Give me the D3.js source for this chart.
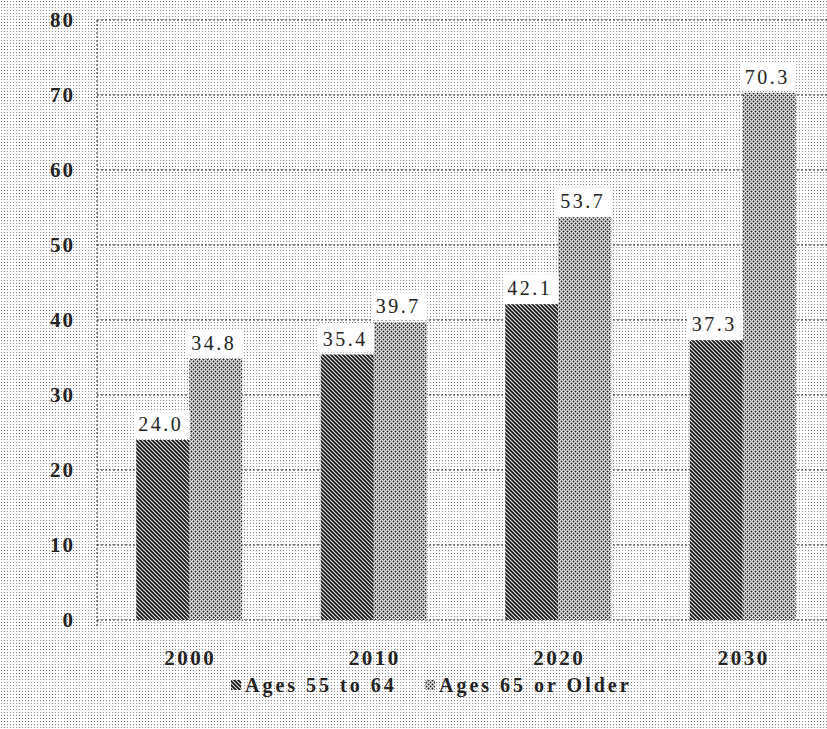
<!DOCTYPE html>
<html><head><meta charset="utf-8">
<script src="https://cdn.jsdelivr.net/npm/d3@7"></script>
<style>html,body{margin:0;padding:0;background:#fff;overflow:hidden}</style>
</head><body>
<svg id="c" width="827" height="729"></svg>
<script>
const categories = ["2000", "2010", "2020", "2030"];
const seriesNames = ["Ages 55 to 64", "Ages 65 or Older"];
const ages55to64 = [24.0, 35.4, 42.1, 37.3];
const ages65plus = [34.8, 39.7, 53.7, 70.3];
const yTicks = [0, 10, 20, 30, 40, 50, 60, 70, 80];

const svg = d3.select("#c");
const W = 827, H = 729;
const defs = svg.append("defs");

const bg = defs.append("pattern").attr("id","bgdots").attr("width",3).attr("height",3).attr("patternUnits","userSpaceOnUse");
bg.append("rect").attr("width",3).attr("height",3).attr("fill","#fff");
bg.append("rect").attr("x",1).attr("y",1).attr("width",1).attr("height",1).attr("fill","#8a8a8a");

const p1 = defs.append("pattern").attr("id","pdark").attr("width",4).attr("height",4).attr("patternUnits","userSpaceOnUse");
p1.append("rect").attr("width",4).attr("height",4).attr("fill","#f0f0f0");
p1.append("path").attr("d","M-1,-1 L5,5 M-1,3 L1,5 M3,-1 L5,1").attr("stroke","#151515").attr("stroke-width",1.8);

const p2 = defs.append("pattern").attr("id","plight").attr("width",4).attr("height",4).attr("patternUnits","userSpaceOnUse");
p2.append("rect").attr("width",4).attr("height",4).attr("fill","#f2f2f2");
p2.append("path").attr("d","M-1,-1 L5,5 M-1,3 L1,5 M3,-1 L5,1").attr("stroke","#222").attr("stroke-width",1.8).attr("stroke-dasharray","1.6,1.2");

svg.append("rect").attr("width",W).attr("height",H).attr("fill","url(#bgdots)");

const x = d3.scaleBand().domain(categories).range([97, 835]);
const y = d3.scaleLinear().domain([0, 80]).range([620, 20]);
const barW = 53;
const serif = "Liberation Serif, 'Times New Roman', serif";

svg.append("g").selectAll("line").data(yTicks).join("line")
  .attr("x1", 97).attr("x2", W).attr("y1", d => y(d)).attr("y2", d => y(d))
  .attr("stroke", "#222").attr("stroke-width", 1).attr("stroke-dasharray", "2,2");
svg.append("line").attr("x1",97).attr("x2",97).attr("y1",y(80)).attr("y2",y(0)+6)
  .attr("stroke","#222").attr("stroke-dasharray","2,2");

svg.append("g").selectAll("text").data(yTicks).join("text")
  .attr("x", 75).attr("y", d => y(d)).attr("dy", "0.35em")
  .attr("text-anchor", "end").attr("font-family", serif).attr("letter-spacing", 2)
  .attr("font-size", 21).attr("font-weight", "bold").attr("fill", "#222").text(d => d);

svg.append("g").selectAll("text").data(categories).join("text")
  .attr("x", d => x(d) + x.bandwidth()/2 + 1).attr("y", 665)
  .attr("text-anchor", "middle").attr("font-family", serif).attr("letter-spacing", 2.5)
  .attr("font-size", 21).attr("font-weight", "bold").attr("fill", "#222").text(d => d);

const rows = categories.map((c, i) => ({c, a: ages55to64[i], b: ages65plus[i]}));
const g = svg.append("g");
g.selectAll("rect.a").data(rows).join("rect").attr("class","a")
  .attr("x", d => x(d.c) + x.bandwidth()/2 - barW).attr("width", barW)
  .attr("y", d => y(d.a)).attr("height", d => y(0) - y(d.a)).attr("fill","url(#pdark)");
g.selectAll("rect.b").data(rows).join("rect").attr("class","b")
  .attr("x", d => x(d.c) + x.bandwidth()/2).attr("width", barW)
  .attr("y", d => y(d.b)).attr("height", d => y(0) - y(d.b)).attr("fill","url(#plight)");

function label(cx, v) {
  const yy = y(v);
  g.append("rect").attr("x", cx - 29).attr("y", yy - 30).attr("width", 56).attr("height", 28).attr("fill", "#fff");
  g.append("text").attr("x", cx - 2).attr("y", yy - 9).attr("text-anchor","middle")
    .attr("font-family", serif).attr("font-size",20).attr("letter-spacing", 2.5).attr("fill","#222").text(v.toFixed(1));
}
rows.forEach(d => {
  label(x(d.c) + x.bandwidth()/2 - barW/2, d.a);
  label(x(d.c) + x.bandwidth()/2 + barW/2, d.b);
});

const leg = [{name: seriesNames[0], fill: "url(#pdark)", x: 231}, {name: seriesNames[1], fill: "url(#plight)", x: 425}];
const lg = svg.append("g").selectAll("g").data(leg).join("g").attr("transform", d => `translate(${d.x},685)`);
lg.append("rect").attr("x",0).attr("y",-5).attr("width",10).attr("height",10).attr("fill", d => d.fill);
lg.append("text").attr("x",14).attr("y",0).attr("dy","0.35em")
  .attr("font-family", serif).attr("font-size",20).attr("letter-spacing", 3).attr("font-weight","bold").attr("fill","#222")
  .text(d => d.name);
</script>
</body></html>
